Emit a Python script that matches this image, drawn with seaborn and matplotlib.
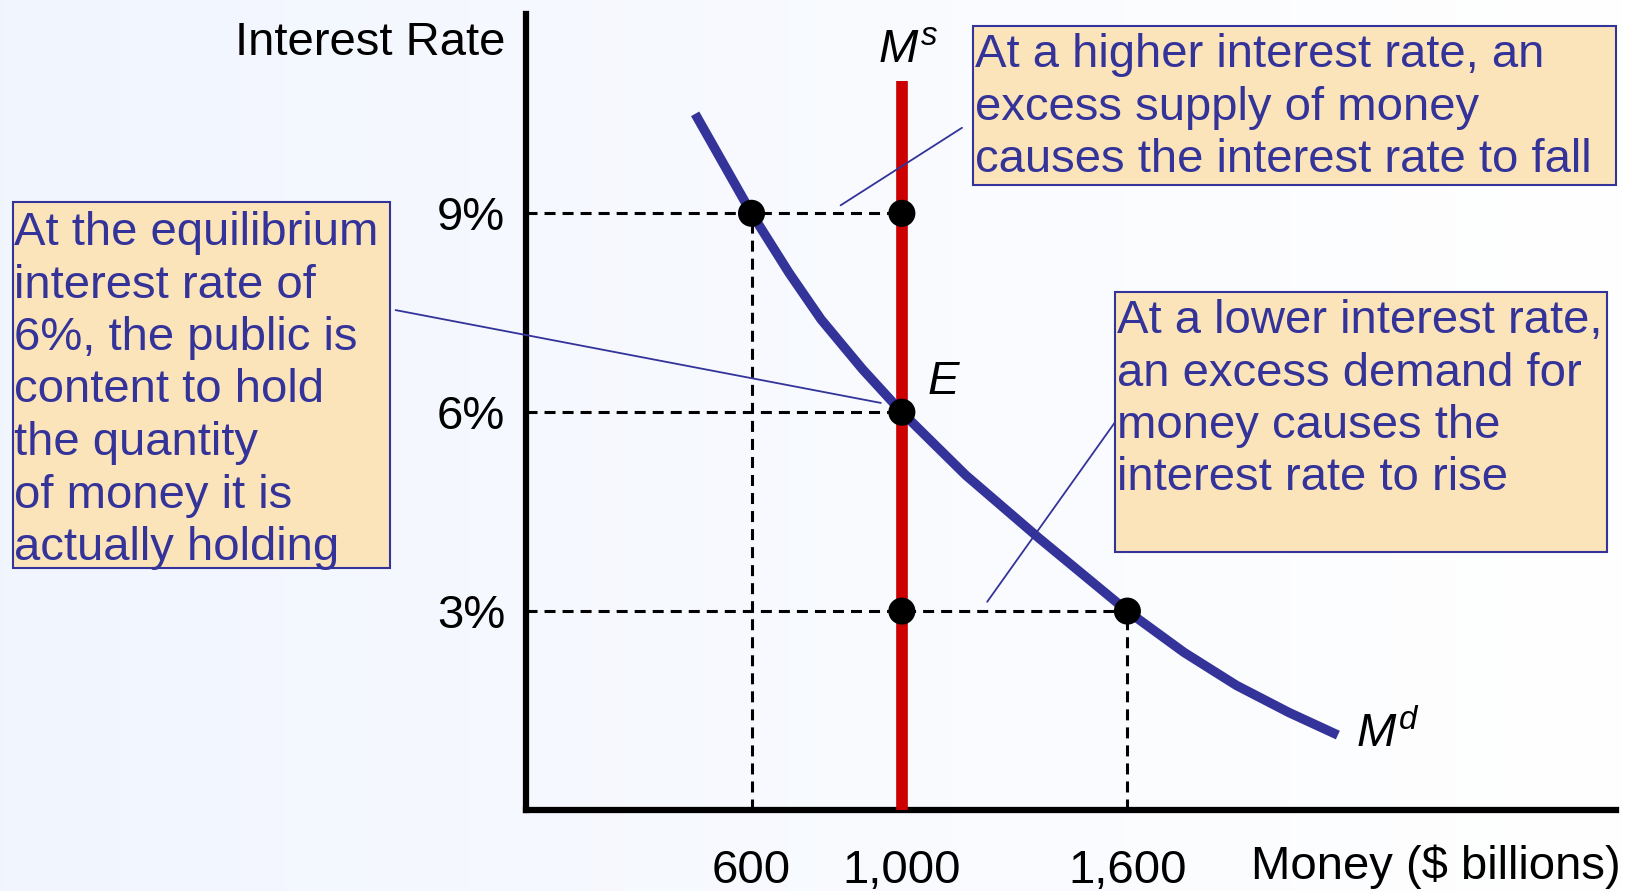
import numpy as np
import matplotlib
matplotlib.use("Agg")
import matplotlib.pyplot as plt
from matplotlib.patches import Rectangle
import seaborn as sns

### Data
md_money = [450, 600, 700, 785, 895, 1000, 1170, 1365, 1600, 1750, 1890, 2030, 2160]
md_rate = [10.5, 9.0, 8.1, 7.4, 6.65, 6.0, 5.05, 4.1, 3.0, 2.38, 1.88, 1.47, 1.13]

ms_money = [1000, 1000]
ms_rate = [0, 11.0]

dot_money = [600, 1000, 1000, 1000, 1600]
dot_rate = [9, 9, 6, 3, 3]

# dashed guides: (rate, money end) and (money, rate end)
h_guides_rate = [9, 6, 3]
h_guides_end = [1000, 1000, 1600]
v_guides_money = [600, 1600]
v_guides_end = [9, 3]

x_ticks = [600, 1000, 1600]
x_ticklabels = ["600", "1,000", "1,600"]
y_ticks = [3, 6, 9]
y_ticklabels = ["3%", "6%", "9%"]

box_texts = [
    "At a higher interest rate, an\nexcess supply of money\ncauses the interest rate to fall",
    "At the equilibrium\ninterest rate of\n6%, the public is\ncontent to hold\nthe quantity\nof money it is\nactually holding",
    "At a lower interest rate,\nan excess demand for\nmoney causes the\ninterest rate to rise",
]
# leader lines (start, end) in data units
leaders = [
    ((837, 9.12), (1160, 10.29)),
    ((-347, 7.54), (944, 6.14)),
    ((1227, 3.14), (1571, 5.88)),
]

BLUE = "#333399"
RED = "#cc0000"
BOX = "#fce4ba"

sns.set_style("white")
plt.rcParams["font.family"] = ["Liberation Sans", "DejaVu Sans"]
plt.rcParams["mathtext.fontset"] = "custom"
plt.rcParams["mathtext.rm"] = "Liberation Sans"
plt.rcParams["mathtext.it"] = "Liberation Sans:italic"
plt.rcParams["text.color"] = "black"
plt.rcParams["xtick.color"] = "black"
plt.rcParams["ytick.color"] = "black"

W, H = 1627, 891
fig = plt.figure(figsize=(W / 100, H / 100), dpi=100)

# soft blue-to-white background
bg = fig.add_axes([0, 0, 1, 1], zorder=-5)
grad = np.linspace(0, 1, 256)[None, :, None]
left = np.array([0.945, 0.962, 0.996])[None, None, :]
right = np.array([1.0, 1.0, 1.0])[None, None, :]
bg.imshow(left + (right - left) * grad, aspect="auto", extent=[0, 1, 0, 1])
bg.axis("off")

ax = fig.add_axes([526 / W, 1 - 810 / H, 1090 / W, 796 / H])
ax.patch.set_alpha(0)
ax.set_xlim(0, 2900)
ax.set_ylim(0, 796 / 66.3)

dash = (0, (3.6, 2.3))
for r, e in zip(h_guides_rate, h_guides_end):
    ax.plot([0, e], [r, r], color="black", lw=2.2, ls=dash, zorder=2)
for m, e in zip(v_guides_money, v_guides_end):
    ax.plot([m, m], [0, e], color="black", lw=2.2, ls=dash, zorder=2)

sns.lineplot(x=ms_money, y=ms_rate, estimator=None, sort=False, color=RED, lw=8.4,
             solid_capstyle="butt", ax=ax, zorder=3)
sns.lineplot(x=md_money, y=md_rate, estimator=None, sort=False, color=BLUE, lw=6.8,
             solid_capstyle="butt", solid_joinstyle="round", ax=ax, zorder=4)
sns.scatterplot(x=dot_money, y=dot_rate, color="black", s=380, edgecolor="none", ax=ax, zorder=6)

for start, end in leaders:
    ax.annotate("", xy=end, xytext=start, annotation_clip=False,
                arrowprops=dict(arrowstyle="-", color=BLUE, lw=1.3, shrinkA=0, shrinkB=0),
                zorder=5)

sns.despine(ax=ax)
for s in ["left", "bottom"]:
    ax.spines[s].set_linewidth(4.5)
    ax.spines[s].set_color("black")
ax.set_xticks(x_ticks, x_ticklabels, fontsize=34)
ax.set_yticks(y_ticks, y_ticklabels, fontsize=34)
ax.tick_params(axis="x", direction="out", length=17, width=1.1, pad=11, colors="black")
ax.tick_params(axis="y", direction="out", length=12, width=1.1, pad=3, colors="black")
ax.set_xlabel("")
ax.set_ylabel("")

ax.text(936, 11.28, "$M^{s}$", fontsize=34, va="baseline", ha="left")
ax.text(1069, 6.27, "E", fontsize=34, style="italic", va="baseline", ha="left")
ax.text(2208, 0.95, "$M^{d}$", fontsize=34, va="baseline", ha="left")

fig.text(505 / W, 1 - 55 / H, "Interest Rate", fontsize=34, ha="right", va="baseline")
fig.text(1621 / W, 1 - 879 / H, "Money ($ billions)", fontsize=34, ha="right", va="baseline")

# annotation boxes: rectangle (x, y, w, h) in pixels from top-left, and text anchor
boxes = [
    ((973, 26, 643, 159), (975, 33)),
    ((13, 202, 377, 366), (14, 211)),
    ((1115, 292, 492, 260), (1117, 299)),
]
for ((bx, by, bw, bh), (tx, ty)), txt in zip(boxes, box_texts):
    fig.add_artist(Rectangle((bx / W, 1 - (by + bh) / H), bw / W, bh / H,
                             transform=fig.transFigure, facecolor=BOX, edgecolor=BLUE, lw=1.5, zorder=1))
    fig.text(tx / W, 1 - ty / H, txt, fontsize=34, color=BLUE, ha="left", va="top",
             linespacing=1.25, zorder=2)

fig.savefig("out.png", dpi=100)
